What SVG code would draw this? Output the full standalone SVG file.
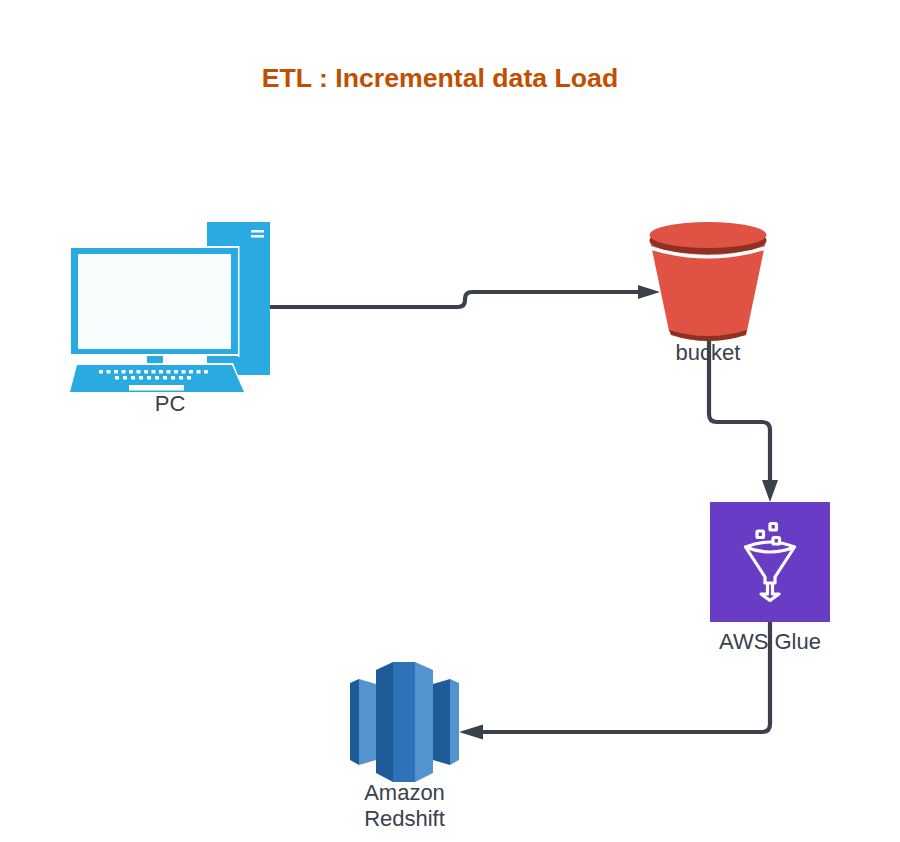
<svg xmlns="http://www.w3.org/2000/svg" width="900" height="842" viewBox="0 0 900 842">
<style>
.lb{font-family:"Liberation Sans",Arial,sans-serif;font-size:22px;fill:#3a414a;text-anchor:middle}
.cn{fill:none;stroke:#3a414a;stroke-width:4.200}
.ah{fill:#3a414a}
.pc{fill:#29abe2}
.w{fill:#fff}
.gl{fill:none;stroke:#fff;stroke-width:3.200;stroke-linejoin:round;stroke-linecap:round}
</style>
<rect width="900" height="842" fill="#fff"/>
<text id="title" x="440" y="87" font-family="'Liberation Sans',Arial,sans-serif" font-size="26.670" font-weight="bold" fill="#c24e00" text-anchor="middle">ETL : Incremental data Load</text>
<g id="connectors">
<path class="cn" d="M270 307H458Q465 307 465 300V299Q465 292 472 292H640"/>
<polygon class="ah" points="660,292 638,285 638,299"/>
<path class="cn" d="M709 340V414Q709 422 717 422H762Q770 422 770 430V482"/>
<polygon class="ah" points="770,502 762,480 778,480"/>
<path class="cn" d="M770 622V724Q770 732 762 732H482"/>
<polygon class="ah" points="459,732 483,724.500 483,739.500"/>
</g>
<g id="pc">
<rect class="pc" x="207" y="222" width="63" height="153"/>
<rect class="w" x="251" y="230" width="13" height="2.500"/>
<rect class="w" x="251" y="235" width="13" height="2.500"/>
<rect class="w" x="200" y="246" width="39.500" height="111"/>
<rect class="pc" x="71" y="248" width="167" height="106"/>
<rect x="78" y="254" width="153" height="95" fill="#fafdfe"/>
<rect class="pc" x="147" y="356" width="16" height="8"/>
<rect class="pc" x="207" y="356" width="31" height="7"/>
<path class="w" d="M70 363H233L245 392H70Z"/>
<polygon class="pc" points="77,365 232,365 244,392 70,392"/>
<rect class="w" x="129" y="385" width="55" height="5.500"/>
<g class="w">
<path d="M99 370h4v3.500h-4zM106.500 370h4v3.500h-4zM114 370h4v3.500h-4zM121.500 370h4v3.500h-4zM129 370h4v3.500h-4zM136.500 370h4v3.500h-4zM144 370h4v3.500h-4zM151.500 370h4v3.500h-4zM159 370h4v3.500h-4zM166.500 370h4v3.500h-4zM174 370h4v3.500h-4zM181.500 370h4v3.500h-4zM189 370h4v3.500h-4zM196.500 370h4v3.500h-4zM204 370h4v3.500h-4z"/>
<path d="M115 376h4v3.500h-4zM123 376h4v3.500h-4zM131 376h4v3.500h-4zM139 376h4v3.500h-4zM147 376h4v3.500h-4zM155 376h4v3.500h-4zM163 376h4v3.500h-4zM171 376h4v3.500h-4zM179 376h4v3.500h-4zM187 376h4v3.500h-4z"/>
</g>
<text class="lb" x="170" y="411">PC</text>
</g>
<g id="bucket">
<path d="M650 240L669 331Q708 347 747 331L766 240Z" fill="#e05243"/>
<path d="M669 330Q708 342 747 330L746 335Q708 347 671 335Z" fill="#8c3123"/>
<path d="M649 247.500Q708 266 767 247.500" fill="none" stroke="#fff" stroke-width="3.500"/>
<ellipse cx="708" cy="240.500" rx="58.500" ry="13.500" fill="#8c3123"/>
<ellipse cx="708" cy="235" rx="58.500" ry="13" fill="#e05243"/>
<text class="lb" x="708" y="360">bucket</text>
</g>
<g id="glue">
<rect x="710" y="502" width="120" height="120" fill="#693cc5"/>
<path class="gl" d="M745.500 547Q770 537 794.500 547L775 577V583H765V577ZM745.500 547Q770 557 794.500 547"/>
<rect class="gl" x="757" y="531" width="6.500" height="6.500" rx="1"/>
<rect class="gl" x="770" y="523.500" width="6.500" height="6.500" rx="1"/>
<rect class="gl" x="773" y="537.500" width="6.500" height="6.500" rx="1" style="fill:#693cc5"/>
<path class="gl" d="M767.500 584V594H761L770 600.500L779 594H772.500V584"/>
<text class="lb" x="770" y="649">AWS Glue</text>
</g>
<g id="redshift">
<polygon points="350,683 359,679 359,765 350,760" fill="#205b99"/>
<polygon points="359,679 376,684 376,760 359,765" fill="#5294cf"/>
<polygon points="459,683 450,679 450,765 459,760" fill="#5294cf"/>
<polygon points="450,679 433,684 433,760 450,765" fill="#205b99"/>
<polygon points="376,670 393,662 393,782 376,773" fill="#205b99"/>
<polygon points="393,662 415,662 415,782 393,782" fill="#2e73b8"/>
<polygon points="415,662 433,670 433,773 415,782" fill="#5294cf"/>
<text class="lb" x="404.500" y="800">Amazon</text>
<text class="lb" x="404.500" y="826">Redshift</text>
</g>
</svg>
